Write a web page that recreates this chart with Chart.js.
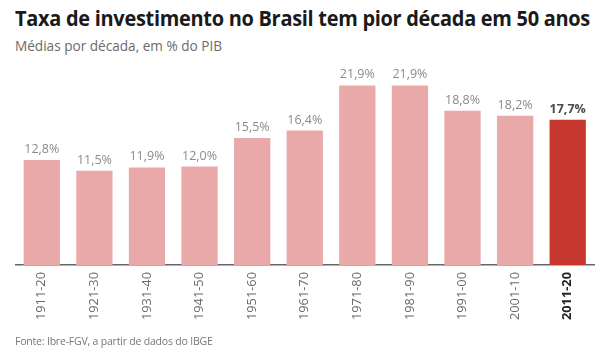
<!DOCTYPE html>
<html lang="pt">
<head>
    <meta charset="UTF-8">
    <title>Taxa de investimento</title>
    <style>
        body {
            margin: 0;
            width: 600px;
            height: 352px;
            background: #fff;
            font-family: "Open Sans", sans-serif;
            position: relative;
            overflow: hidden;
        }

        .title {
            position: absolute;
            left: 15px;
            top: 2px;
            font-size: 22px;
            font-weight: 700;
            color: #1a1a1a;
            white-space: nowrap;
            transform-origin: left top;
            letter-spacing: -0.3px;
        }

        .subtitle {
            position: absolute;
            left: 15px;
            top: 36px;
            font-size: 13.6px;
            color: #6b6b6b;
            white-space: nowrap;
        }

        .source {
            position: absolute;
            left: 15px;
            top: 334px;
            font-size: 10.5px;
            color: #777;
            white-space: nowrap;
            letter-spacing: -0.2px;
        }

        .chart-box {
            position: absolute;
            left: 0;
            top: 0;
            width: 600px;
            height: 352px;
        }
    </style>
</head>
<body>
    <div class="title" id="title">Taxa de investimento no Brasil tem pior década em 50 anos</div>
    <div class="subtitle">Médias por década, em % do PIB</div>
    <div class="chart-box">
        <canvas id="barChart"></canvas>
    </div>
    <div class="source">Fonte: Ibre-FGV, a partir de dados do IBGE</div>

    <script src="https://cdn.jsdelivr.net/npm/chart.js"></script>
    <script>
        // Data
        const decades = ["1911-20", "1921-30", "1931-40", "1941-50", "1951-60", "1961-70",
                         "1971-80", "1981-90", "1991-00", "2001-10", "2011-20"];
        const investRate = [12.8, 11.5, 11.9, 12.0, 15.5, 16.4, 21.9, 21.9, 18.8, 18.2, 17.7];
        const valueLabels = ["12,8%", "11,5%", "11,9%", "12,0%", "15,5%", "16,4%",
                             "21,9%", "21,9%", "18,8%", "18,2%", "17,7%"];

        // squeeze the title to the width used in the picture
        const titleEl = document.getElementById('title');
        const targetW = 575;
        const w = titleEl.getBoundingClientRect().width;
        if (w > 0) titleEl.style.transform = 'scaleX(' + (targetW / w) + ')';

        const lastIdx = decades.length - 1;
        const pink = '#eaa9a9';
        const red = '#c8372d';

        // value labels above bars
        const barLabels = {
            id: 'barLabels',
            afterDatasetsDraw(chart) {
                const ctx = chart.ctx;
                const meta = chart.getDatasetMeta(0);
                ctx.save();
                ctx.textAlign = 'center';
                ctx.textBaseline = 'alphabetic';
                meta.data.forEach((bar, i) => {
                    const last = i === lastIdx;
                    ctx.font = (last ? '700 ' : '400 ') + '12.5px "Open Sans"';
                    ctx.fillStyle = last ? '#4a4a4a' : '#8a8a8a';
                    ctx.fillText(valueLabels[i], bar.x, bar.y - 7);
                });
                ctx.restore();
            }
        };

        const ctxBar = document.getElementById('barChart').getContext('2d');
        new Chart(ctxBar, {
            type: 'bar',
            data: {
                labels: decades,
                datasets: [{
                    data: investRate,
                    backgroundColor: investRate.map((v, i) => i === lastIdx ? red : pink),
                    borderWidth: 0,
                    barPercentage: 0.69,
                    categoryPercentage: 1.0
                }]
            },
            options: {
                responsive: true,
                maintainAspectRatio: false,
                animation: false,
                layout: {
                    padding: { left: 15.5, right: 6, top: 60, bottom: 0 }
                },
                plugins: {
                    legend: { display: false },
                    tooltip: { enabled: false }
                },
                scales: {
                    x: {
                        grid: { display: false, drawTicks: false },
                        border: { display: true, color: '#666', width: 1.5 },
                        ticks: {
                            minRotation: 90,
                            maxRotation: 90,
                            padding: 7,
                            color: (c) => c.index === lastIdx ? '#222' : '#6a6a6a',
                            font: (c) => ({
                                family: 'Open Sans',
                                size: 12.8,
                                weight: c.index === lastIdx ? '700' : '400'
                            })
                        },
                        afterFit(scale) {
                            scale.height = 87;
                        }
                    },
                    y: {
                        display: false,
                        min: 0,
                        max: 25
                    }
                }
            },
            plugins: [barLabels]
        });
    </script>
</body>
</html>
